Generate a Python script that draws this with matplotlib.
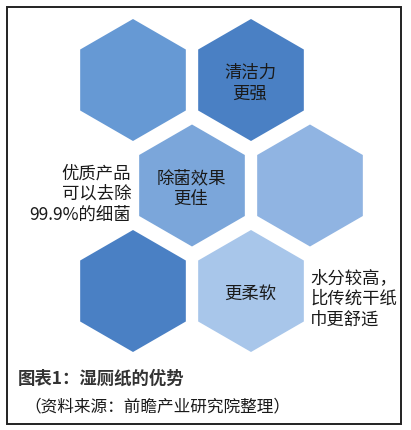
import matplotlib
matplotlib.use("Agg")
import matplotlib.pyplot as plt
import matplotlib.patches as patches

plt.rcParams['font.family'] = ['Noto Sans CJK SC', 'DejaVu Sans']

# hexagon grid cells (row, col) and their fills / labels
hex_rows = [0, 0, 1, 1, 2, 2]
hex_cols = [0, 1, 0, 1, 0, 1]
hex_colors = ['#6699d4', '#4a80c4', '#7ba6da', '#90b4e2', '#4a80c4', '#a8c6ea']
hex_labels = ['', '清洁力\n更强', '除菌效果\n更佳', '', '', '更柔软']

side_notes = ['优质产品\n可以去除\n99.9%的细菌', '水分较高，\n比传统干纸\n巾更舒适']
title = '图表1：湿厕纸的优势'
source = '（资料来源：前瞻产业研究院整理）'

W, H = 411, 430
fig = plt.figure(figsize=(W / 100, H / 100), dpi=100)
ax = fig.add_axes([0, 0, 1, 1])
ax.set_xlim(0, W)
ax.set_ylim(H, 0)
ax.axis('off')

# outer frame
ax.add_patch(patches.Rectangle((7, 7), 394, 417, fill=False,
                               edgecolor='#222222', linewidth=1.4))

# honeycomb
r = 61
x0, y0 = 133, 80
dx, dy = 118, 105.5
for row, col, c, lab in zip(hex_rows, hex_cols, hex_colors, hex_labels):
    cx = x0 + dx * col + (dx / 2) * (row % 2)
    cy = y0 + dy * row
    ax.add_patch(patches.RegularPolygon((cx, cy), numVertices=6, radius=r,
                                        orientation=0, facecolor=c,
                                        edgecolor='none'))
    if lab:
        ax.text(cx - 1, cy + 3, lab, ha='center', va='center', fontsize=12.5,
                color='#1a1a1a', linespacing=1.2)

# notes beside the honeycomb
ax.text(131, 194, side_notes[0], ha='right', va='center', fontsize=12.5,
        color='#1a1a1a', linespacing=1.2)
ax.text(310, 299, side_notes[1], ha='left', va='center', fontsize=12.5,
        color='#1a1a1a', linespacing=1.2)

# caption
ax.text(18, 379, title, ha='left', va='center', fontsize=12.5,
        fontweight='bold', color='#333333')
ax.text(24, 407, source, ha='left', va='center', fontsize=12,
        color='#1a1a1a')

fig.savefig('out.png', dpi=100)
